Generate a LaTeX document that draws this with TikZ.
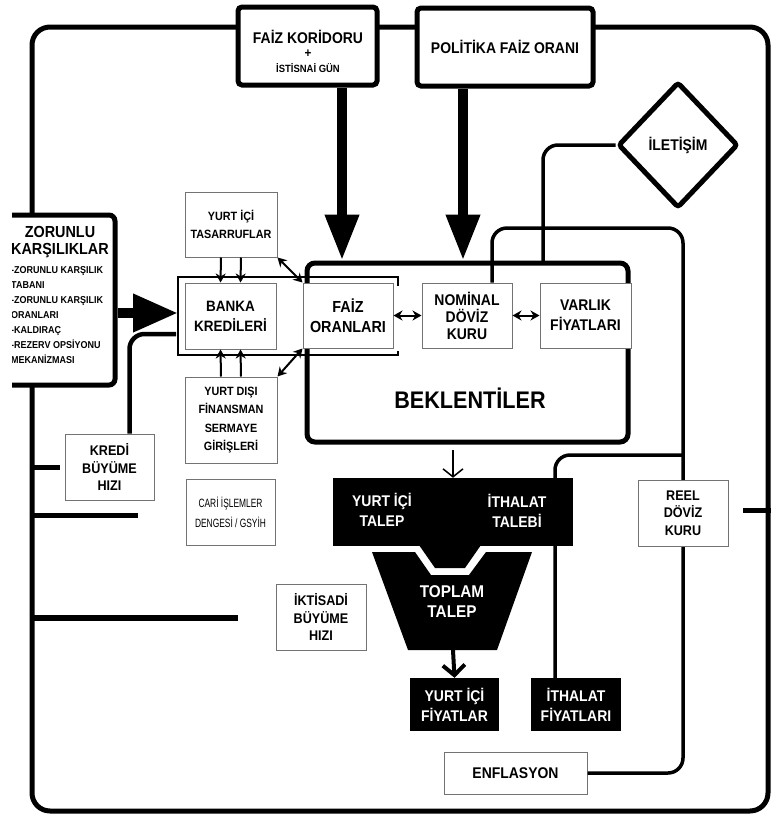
\documentclass[tikz,border=0pt]{standalone}
\usepackage{fontspec}
\setmainfont{Liberation Sans}[FakeStretch=0.9]
\newfontfamily\darfont{Liberation Sans}[FakeStretch=0.7]
\usetikzlibrary{arrows.meta}
\usetikzlibrary{shapes.geometric}
\usetikzlibrary{calc}
\newcommand{\yazi}[2]{\fontsize{#1}{#2}\selectfont\bfseries}
\tikzset{>=latex}
\tikzset{
    cerceve/.style={draw, line width=5pt, rounded corners=18pt, inner sep=0pt},
    kalin/.style={draw, line width=5pt, rounded corners=4pt, fill=white, inner sep=0pt, align=center},
    kutu/.style={draw=black!55, line width=1pt, fill=white, inner sep=0pt, align=center},
    kara/.style={fill=black, text=white, inner sep=0pt, align=center},
    beyaz/.style={text=white, inner sep=0pt, align=center},
    hat/.style={line width=3.5pt, rounded corners=15pt},
    dal/.style={line width=5pt},
    okince/.style={line width=2pt, -{Stealth[length=9pt,width=10pt]}},
    okcift/.style={line width=2pt, {Stealth[length=9pt,width=10pt]}-{Stealth[length=9pt,width=10pt]}},
    okkalin/.style={line width=10pt, -{Triangle[length=46pt,width=32pt]}},
}

\begin{document}
\begin{tikzpicture}[x=1pt, y=-1pt]
    \useasboundingbox (0,0) rectangle (772,815);
    \clip (12,0) rectangle (772,815);

    \node[cerceve, minimum width=736pt, minimum height=784pt] (cerceve) at (400,419) {};
    \node[kalin, rounded corners=8pt, minimum width=321pt, minimum height=179pt] (beklenti) at (467.5,352.5) {};
    \node[font=\yazi{24}{28}] (beklyazi) at (470,398) {BEKLENTİLER};

    \coordinate (brk) at (178,277);
    \draw[line width=2pt] (398,286) |- (brk) |- (398,355) -- (398,351);

    \node[kalin, minimum width=139pt, minimum height=78pt] (koridor) at (307.5,46) {};
    \node[font=\yazi{15.5}{18}, inner sep=0pt] (koridoryazi) at (308,37) {FAİZ KORİDORU};
    \node[font=\yazi{13}{14}, inner sep=0pt] (arti) at (308,54) {+};
    \node[font=\yazi{10.5}{12}, inner sep=0pt] (istisna) at (308,68) {İSTİSNAİ GÜN};
    \node[kalin, minimum width=176pt, minimum height=78pt, font=\yazi{15.5}{18}] (politika) at (505,47) {POLİTİKA FAİZ ORANI};
    \node[kalin, diamond, rounded corners=3pt, minimum width=120pt, minimum height=126pt, font=\yazi{15.5}{18}] (iletisim) at (678,145) {İLETİŞİM};

    \node[kalin, rounded corners=6pt, minimum width=125pt, minimum height=170pt] (zorunlu) at (52.5,300) {};
    \node[font=\yazi{16}{17}, align=center, inner sep=0pt] (zorbaslik) at (60,242) {ZORUNLU\\KARŞILIKLAR};
    \node[font=\yazi{10}{15}, align=left, anchor=north west, inner sep=0pt] (zorliste) at (11,266)
        {-ZORUNLU KARŞILIK\\TABANI\\-ZORUNLU KARŞILIK\\ORANLARI\\-KALDIRAÇ\\-REZERV OPSİYONU\\MEKANİZMASI};

    \node[kutu, minimum width=91pt, minimum height=66pt, font=\yazi{15}{20}] (banka) at (230.5,316) {BANKA\\KREDİLERİ};
    \node[kutu, minimum width=92pt, minimum height=65pt, font=\yazi{12}{18}] (tasarruf) at (231,224.5) {YURT İÇİ\\TASARRUFLAR};
    \node[kutu, minimum width=92pt, minimum height=86pt, font=\yazi{12}{18.5}] (yurtdisi) at (231,420) {YURT DIŞI\\FİNANSMAN\\SERMAYE\\GİRİŞLERİ};
    \node[kutu, minimum width=90pt, minimum height=65pt, font=\yazi{16}{20}] (faiz) at (348,315.5) {FAİZ\\ORANLARI};
    \node[kutu, minimum width=90pt, minimum height=65pt, font=\yazi{15.5}{17}] (nominal) at (467,315.5) {NOMİNAL\\DÖVİZ\\KURU};
    \node[kutu, minimum width=91pt, minimum height=65pt, font=\yazi{15.5}{20}] (varlik) at (585.5,315.5) {VARLIK\\FİYATLARI};
    \node[kutu, minimum width=89pt, minimum height=66pt, font=\yazi{14}{17.5}] (kredi) at (109.5,467) {KREDİ\\BÜYÜME\\HIZI};
    \node[kutu, minimum width=89pt, minimum height=66pt, font=\darfont\fontsize{12}{20}\selectfont] (cari) at (230.5,512) {CARİ İŞLEMLER\\DENGESİ / GSYİH};
    \node[kutu, minimum width=90pt, minimum height=66pt, font=\yazi{14}{17.5}] (iktisadi) at (321,617) {İKTİSADİ\\BÜYÜME\\HIZI};

    \node[kara, minimum width=240pt, minimum height=68pt] (talep) at (453,512) {};
    \fill (419,545) -- (435,568) -- (465,568) -- (481,545) -- cycle;
    \fill (372,552) -- (415,552) -- (431,575) -- (469,575) -- (486,552) -- (532,552) -- (497,650) -- (408,650) -- cycle;
    \coordinate (tbot) at (453,650);
    \node[beyaz, font=\yazi{15.5}{20}] (yitalep) at (382,510) {YURT İÇİ\\TALEP};
    \node[beyaz, font=\yazi{15.5}{20}] (ithtalep) at (517,511) {İTHALAT\\TALEBİ};
    \node[beyaz, font=\yazi{17}{20}] (toplam) at (452,602) {TOPLAM\\TALEP};
    \node[kara, minimum width=89pt, minimum height=53pt, font=\yazi{15.5}{20}] (yifiyat) at (454.5,704.5) {YURT İÇİ\\FİYATLAR};
    \node[kara, minimum width=90pt, minimum height=53pt, font=\yazi{15.5}{20}] (ithfiyat) at (576,704.5) {İTHALAT\\FİYATLARI};
    \node[kutu, minimum width=143pt, minimum height=42pt, font=\yazi{15.5}{18}] (enflasyon) at (515.5,773) {ENFLASYON};

    \coordinate (fzok) at ([xshift=-6pt]faiz.north);
    \coordinate (nmok) at ([xshift=-4pt]nominal.north);
    \draw[okkalin] (fzok |- koridor.south) -- (fzok |- beklenti.north);
    \draw[okkalin] (nmok |- politika.south) -- (nmok |- beklenti.north);
    \draw[line width=10pt, -{Triangle[length=45pt,width=36pt]}] (zorunlu.east |- 0,313) -- (brk |- 0,313);

    \foreach \dx in {-10,10} {
        \draw[okince] ([xshift=\dx pt]tasarruf.south) -- ([xshift=\dx pt]banka.north);
        \draw[okince] ([xshift=\dx pt]yurtdisi.north) -- ([xshift=\dx pt]banka.south);
    }
    \draw[okcift] (tasarruf.south east) -- (faiz.north west);
    \draw[okcift] (yurtdisi.north east) -- (faiz.south west);
    \draw[okcift] (faiz.east) -- (nominal.west);
    \draw[okcift] (nominal.east) -- (varlik.west);

    \coordinate (ilucu) at (543,263);
    \draw[hat] (iletisim.west) -| (ilucu);
    \coordinate (ust) at (683,228);
    \draw[hat] ([xshift=25pt]nominal.north) |- (ust) |- (enflasyon.east);
    \coordinate (kol) at (683,455);
    \draw[hat] (kol) -| ([xshift=-21pt]ithfiyat.north);
    \node[kutu, minimum width=90pt, minimum height=66pt, font=\yazi{14}{17.5}] (reel) at (683,513) {REEL\\DÖVİZ\\KURU};

    \draw[line width=1.5pt, -{Straight Barb[length=8pt,width=20pt]}] ([yshift=-5pt]beklenti.south -| talep.north) -- (talep.north);
    \draw[line width=4pt, -{Straight Barb[length=10pt,width=22pt]}] (tbot) -- (yifiyat.north);

    \coordinate (kreduc) at (176,334);
    \draw[hat, line width=4.5pt] (kreduc) -| ([xshift=20pt]kredi.north);
    \coordinate (cariuc) at (138,515);
    \coordinate (iktuc) at (238,618);
    \coordinate (reeluc) at (743,510);
    \draw[dal] (cerceve.west |- kredi.west) -- ([xshift=-5pt]kredi.west);
    \draw[dal] (cerceve.west |- cariuc) -- (cariuc);
    \draw[dal, line width=6pt] (cerceve.west |- iktuc) -- (iktuc);
    \draw[dal] (cerceve.east |- reeluc) -- (reeluc);
\end{tikzpicture}
\end{document}
